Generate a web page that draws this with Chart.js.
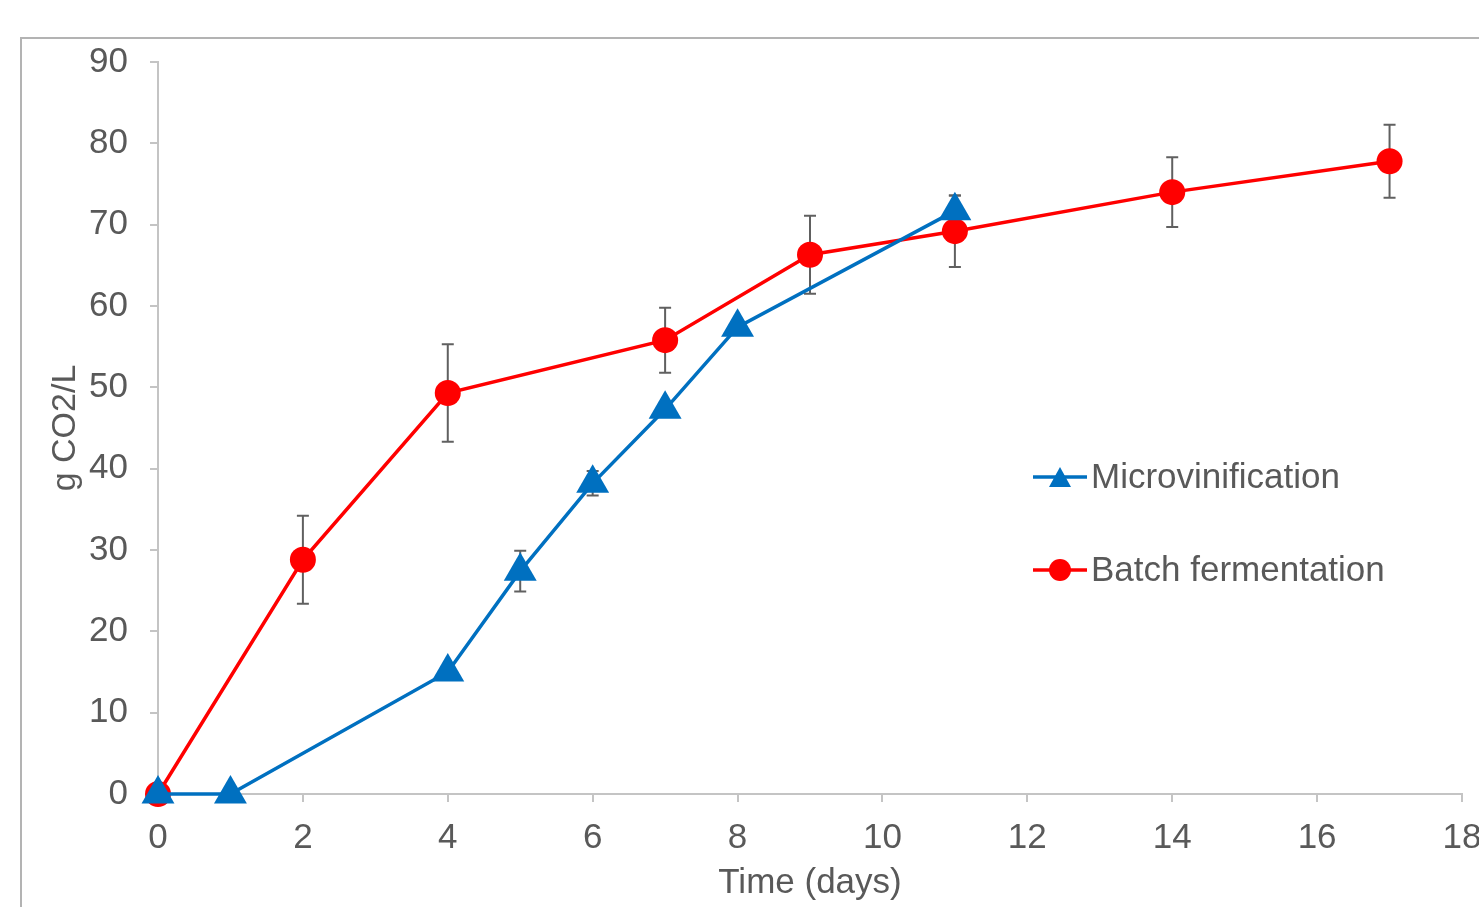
<!DOCTYPE html>
<html>
<head>
<meta charset="utf-8">
<script src="https://cdn.jsdelivr.net/npm/chart.js@4/dist/chart.umd.min.js"></script>
<style>
  html, body { margin: 0; padding: 0; background: #fff; overflow: hidden; }
  #wrap { position: absolute; left: 0; top: 0; width: 1502px; height: 907px; }
</style>
</head>
<body>
<div id="wrap"><canvas id="chart" width="1502" height="907"></canvas></div>
<script>
// Microvinification series
const microDays = [0, 1, 4, 5, 6, 7, 8, 11];
const microCO2 = [0, 0, 15.0, 27.4, 38.2, 47.3, 57.4, 71.7];
const microErr = [0, 0, 0, 2.5, 1.5, 0, 0, 1.9];

// Batch fermentation series
const batchDays = [0, 2, 4, 7, 9, 11, 14, 17];
const batchCO2 = [0, 28.8, 49.3, 55.8, 66.3, 69.2, 74.0, 77.8];
const batchErr = [0, 5.4, 6.0, 4.0, 4.8, 4.4, 4.3, 4.5];

const seriesLabels = ['Microvinification', 'Batch fermentation'];
const xTicks = [0, 2, 4, 6, 8, 10, 12, 14, 16, 18];
const yTicks = [0, 10, 20, 30, 40, 50, 60, 70, 80, 90];

const textColor = '#595959';
const axisColor = '#c4c4c4';
const fontFamily = '"Liberation Sans", Arial, sans-serif';

function toPoints(xs, ys) {
    return xs.map((x, i) => ({ x: x, y: ys[i] }));
}

// outer frame of the chart object
const framePlugin = {
    id: 'frame',
    beforeDraw(chart) {
        const ctx = chart.ctx;
        ctx.save();
        ctx.strokeStyle = '#b3b3b3';
        ctx.lineWidth = 2;
        ctx.strokeRect(21, 38, 3000, 3000);
        ctx.restore();
    }
};

// vertical error bars, drawn under the lines
const errorBarPlugin = {
    id: 'errorBars',
    beforeDatasetsDraw(chart) {
        const ctx = chart.ctx;
        const yScale = chart.scales.y;
        ctx.save();
        ctx.strokeStyle = '#606060';
        ctx.lineWidth = 2;
        chart.data.datasets.forEach((ds, di) => {
            const meta = chart.getDatasetMeta(di);
            ds.errors.forEach((e, i) => {
                if (!e) return;
                const px = meta.data[i].x;
                const v = ds.data[i].y;
                const top = yScale.getPixelForValue(v + e);
                const bot = yScale.getPixelForValue(v - e);
                ctx.beginPath();
                ctx.moveTo(px, top); ctx.lineTo(px, bot);
                ctx.moveTo(px - 6, top); ctx.lineTo(px + 6, top);
                ctx.moveTo(px - 6, bot); ctx.lineTo(px + 6, bot);
                ctx.stroke();
            });
        });
        ctx.restore();
    }
};

// legend inside the plot, right side
const legendPlugin = {
    id: 'insideLegend',
    afterDraw(chart) {
        const ctx = chart.ctx;
        const rows = [477, 570];
        ctx.save();
        chart.data.datasets.forEach((ds, i) => {
            const y = rows[i];
            ctx.strokeStyle = ds.borderColor;
            ctx.lineWidth = 3.5;
            ctx.beginPath();
            ctx.moveTo(1033, y); ctx.lineTo(1087, y);
            ctx.stroke();
            ctx.fillStyle = ds.borderColor;
            ctx.beginPath();
            if (ds.pointStyle === 'triangle') {
                ctx.moveTo(1060, y - 10);
                ctx.lineTo(1071, y + 10);
                ctx.lineTo(1049, y + 10);
                ctx.closePath();
            } else {
                ctx.arc(1060, y, 11, 0, Math.PI * 2);
            }
            ctx.fill();
            ctx.fillStyle = textColor;
            ctx.font = '35px ' + fontFamily;
            ctx.textAlign = 'left';
            ctx.textBaseline = 'middle';
            ctx.fillText(ds.label, 1091, y + 1);
        });
        ctx.restore();
    }
};

new Chart(document.getElementById('chart'), {
    type: 'line',
    data: {
        datasets: [{
            label: seriesLabels[0],
            data: toPoints(microDays, microCO2),
            errors: microErr,
            borderColor: '#0070C0',
            backgroundColor: '#0070C0',
            borderWidth: 3.5,
            pointStyle: 'triangle',
            pointRadius: 19,
            pointBorderWidth: 0,
            clip: false,
            tension: 0
        }, {
            label: seriesLabels[1],
            data: toPoints(batchDays, batchCO2),
            errors: batchErr,
            borderColor: '#FF0000',
            backgroundColor: '#FF0000',
            borderWidth: 3.5,
            pointStyle: 'circle',
            pointRadius: 13,
            pointBorderWidth: 0,
            clip: false,
            tension: 0
        }]
    },
    options: {
        responsive: false,
        animation: false,
        layout: { padding: { left: 0, right: 40, top: 62, bottom: 0 } },
        plugins: {
            legend: { display: false },
            tooltip: { enabled: false }
        },
        scales: {
            x: {
                type: 'linear',
                min: 0,
                max: 18,
                afterBuildTicks(scale) { scale.ticks = xTicks.map(v => ({ value: v })); },
                afterFit(scale) { scale.height = 113; },
                grid: { drawOnChartArea: false, drawTicks: true, tickLength: 8, color: axisColor, lineWidth: 2 },
                border: { color: axisColor, width: 2 },
                ticks: { color: textColor, padding: 15, maxRotation: 0, font: { family: fontFamily, size: 35 } },
                title: {
                    display: true,
                    text: 'Time (days)',
                    color: textColor,
                    padding: { top: 0, bottom: 3 },
                    font: { family: fontFamily, size: 35 }
                }
            },
            y: {
                min: 0,
                max: 90,
                afterBuildTicks(scale) { scale.ticks = yTicks.map(v => ({ value: v })); },
                afterFit(scale) { scale.width = 158; },
                grid: { drawOnChartArea: false, drawTicks: true, tickLength: 8, color: axisColor, lineWidth: 2 },
                border: { color: axisColor, width: 2 },
                ticks: { color: textColor, padding: 22, font: { family: fontFamily, size: 35 } },
                title: {
                    display: true,
                    text: 'g CO2/L',
                    color: textColor,
                    padding: { top: 45, bottom: 0 },
                    font: { family: fontFamily, size: 34 }
                }
            }
        }
    },
    plugins: [framePlugin, errorBarPlugin, legendPlugin]
});
</script>
</body>
</html>
